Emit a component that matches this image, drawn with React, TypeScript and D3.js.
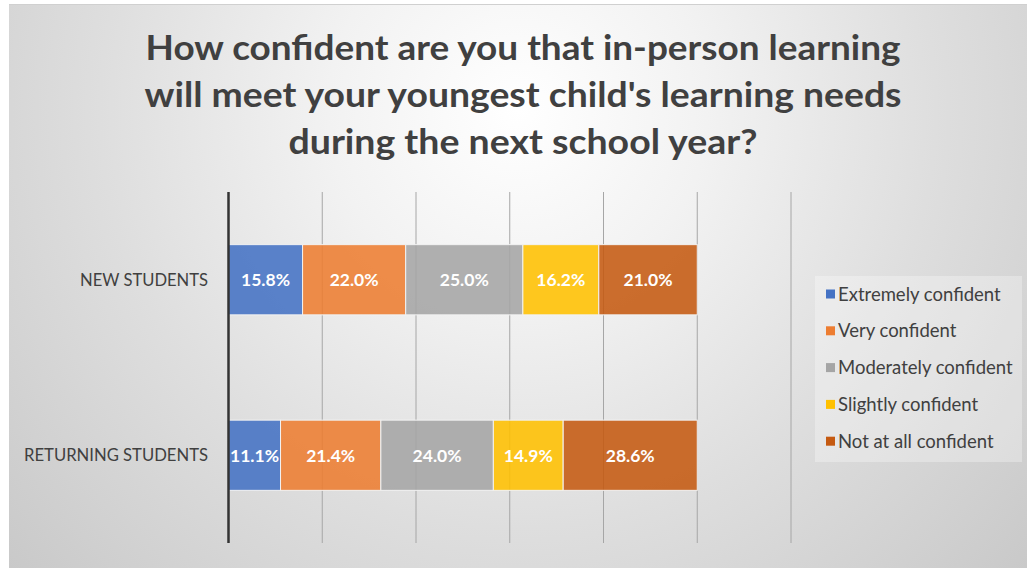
import React from "react";
import * as d3 from "d3";

const titleLines = [
  "How confident are you that in-person learning",
  "will meet your youngest child's learning needs",
  "during the next school year?",
];
const categories = ["NEW STUDENTS", "RETURNING STUDENTS"];
const seriesNames = [
  "Extremely confident",
  "Very confident",
  "Moderately confident",
  "Slightly confident",
  "Not at all confident",
];
const extremely = [15.8, 11.1];
const very = [22.0, 21.4];
const moderately = [25.0, 24.0];
const slightly = [16.2, 14.9];
const notAtAll = [21.0, 28.6];
const xTicks = [0, 20, 40, 60, 80, 100, 120];
const colors = ["#4472C4", "#ED7D31", "#A5A5A5", "#FFC000", "#C55A11"];

const W = 1027;
const H = 568;
const FONT = "Lato, 'Open Sans', sans-serif";

export default function App() {
  const seriesValues = [extremely, very, moderately, slightly, notAtAll];
  const x = d3.scaleLinear().domain([0, 120]).range([228.5, 791]);
  const y = d3.scaleBand<string>().domain(categories).range([192, 543]).paddingInner(0.6).paddingOuter(0.3);

  const rows = categories.map((c, i) => {
    const obj: Record<string, number | string> = { cat: c };
    seriesNames.forEach((s, j) => (obj[s] = seriesValues[j][i]));
    return obj;
  });
  const stack = d3.stack<Record<string, number | string>>().keys(seriesNames).value((d, k) => d[k] as number);
  const stacked = stack(rows);

  const titleLens = [755, 757, 469];
  const catLens = [128, 184];

  return (
    <svg width={W} height={H} style={{ position: "absolute", left: 0, top: 0 }}>
      <defs>
        <radialGradient id="bg" cx={518} cy={110} r={760} gradientUnits="userSpaceOnUse">
          <stop offset="0" stopColor="#ffffff" />
          <stop offset="0.25" stopColor="#f2f2f2" />
          <stop offset="0.55" stopColor="#dedede" />
          <stop offset="1" stopColor="#c3c3c3" />
        </radialGradient>
      </defs>
      <rect x={0} y={0} width={W} height={H} fill="#ffffff" />
      <rect x={9} y={4} width={W - 9} height={H - 4} fill="url(#bg)" />
      <line x1={9} x2={W} y1={4.5} y2={4.5} stroke="#d0d0d0" strokeWidth={1} />

      {titleLines.map((t, i) => (
        <text
          key={i}
          x={523}
          y={60 + i * 47}
          textAnchor="middle"
          fontFamily={FONT}
          fontWeight={700}
          fontSize={34}
          fill="#404040"
          textLength={titleLens[i]}
          lengthAdjust="spacingAndGlyphs"
        >
          {t}
        </text>
      ))}

      {xTicks.slice(1).map((t) => (
        <line key={t} x1={x(t)} x2={x(t)} y1={192} y2={543} stroke="#a6a6a6" strokeWidth={1} />
      ))}

      {stacked.map((layer, j) =>
        layer.map((d, i) => (
          <g key={`${j}-${i}`}>
            <rect
              x={x(d[0])}
              y={y(categories[i])!}
              width={x(d[1]) - x(d[0])}
              height={y.bandwidth()}
              fill={colors[j]}
              fillOpacity={0.88}
              stroke="#f2f2f2"
              strokeWidth={1}
            />
            <text
              x={(x(d[0]) + x(d[1])) / 2}
              y={y(categories[i])! + y.bandwidth() / 2}
              dy="0.36em"
              textAnchor="middle"
              fontFamily={FONT}
              fontWeight={700}
              fontSize={17.5}
              fill="#ffffff"
            >
              {(d[1] - d[0]).toFixed(1)}%
            </text>
          </g>
        ))
      )}

      <line x1={x(0)} x2={x(0)} y1={192} y2={543} stroke="#333333" strokeWidth={2.5} />

      {categories.map((c, i) => (
        <text
          key={c}
          x={208}
          y={y(c)! + y.bandwidth() / 2}
          dy="0.36em"
          textAnchor="end"
          fontFamily={FONT}
          fontSize={17}
          fill="#404040"
          textLength={catLens[i]}
          lengthAdjust="spacingAndGlyphs"
        >
          {c}
        </text>
      ))}

      <rect x={815} y={276} width={207} height={186} fill="#ffffff" fillOpacity={0.3} />
      {seriesNames.map((s, j) => (
        <g key={s} transform={`translate(826, ${294 + j * 36.8})`}>
          <rect x={0} y={-4.5} width={9} height={9} fill={colors[j]} />
          <text x={12} y={0} dy="0.36em" fontFamily={FONT} fontSize={18.5} fill="#404040">
            {s}
          </text>
        </g>
      ))}
    </svg>
  );
}
